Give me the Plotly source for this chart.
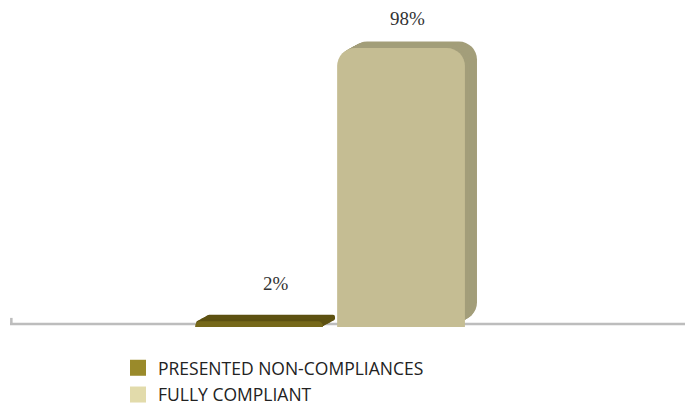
import plotly.graph_objects as go

# ---- data ----
categories = ["PRESENTED NON-COMPLIANCES", "FULLY COMPLIANT"]
values = [2, 98]
labels = ["2%", "98%"]

# ---- styles ----
front_colors = ["#766819", "#c5bd93"]
side_colors = ["#5e5212", "#a39e7a"]
legend_colors = ["#9a8a2a", "#e2dbab"]
label_shift = [19, 11]
label_xshift = [11, 0]

bar_w = 0.9
depth_dx = 0.085   # x units
depth_dy = 2.3     # y units
steps = 12

fig = go.Figure()

for i, v in enumerate(values):
    # extrusion: copies of the bar from back to front
    for k in range(steps, 0, -1):
        f = k / steps
        fig.add_trace(go.Bar(
            x=[i], y=[v], base=[depth_dy * f], width=[bar_w],
            offset=[-bar_w / 2 + depth_dx * f],
            marker=dict(color=side_colors[i], cornerradius=18, line=dict(width=0)),
            showlegend=False, hoverinfo="skip"))
    fig.add_trace(go.Bar(
        x=[i], y=[v], width=[bar_w], offset=[-bar_w / 2],
        marker=dict(color=front_colors[i], cornerradius=18, line=dict(width=0)),
        showlegend=False, name=categories[i]))
    fig.add_annotation(x=i + depth_dx / 2, y=v + depth_dy, text=labels[i],
                       showarrow=False, yanchor="bottom", yshift=label_shift[i],
                       xshift=label_xshift[i],
                       font=dict(family="Liberation Serif", size=19, color="#333333"))

for i, c in enumerate(categories):
    fig.add_trace(go.Scatter(
        x=[None], y=[None], mode="markers", name=c, legendgroup=f"g{i}",
        marker=dict(symbol="square", size=16, color=legend_colors[i])))

# floor line and small tick
fig.add_shape(type="line", xref="paper", yref="y", x0=0, x1=1, y0=1.05, y1=1.05,
              line=dict(color="#bdbdbd", width=2.5), layer="below")
fig.add_shape(type="line", xref="paper", yref="y", x0=0.002, x1=0.002, y0=1.05, y1=3.2,
              line=dict(color="#bdbdbd", width=2.5), layer="below")

fig.update_layout(
    width=685, height=409,
    margin=dict(l=10, r=0, t=0, b=82, autoexpand=False),
    paper_bgcolor="white", plot_bgcolor="white",
    barmode="overlay",
    xaxis=dict(range=[-1.754, 3.0], visible=False, fixedrange=True),
    yaxis=dict(range=[0, 114.9], visible=False, fixedrange=True),
    showlegend=True,
    legend=dict(x=0.16, y=-0.07, xanchor="left", yanchor="top",
                font=dict(family="Open Sans", size=17.5, color="#222222"),
                bgcolor="rgba(0,0,0,0)", tracegroupgap=1),
)

fig.write_html("out.html")
